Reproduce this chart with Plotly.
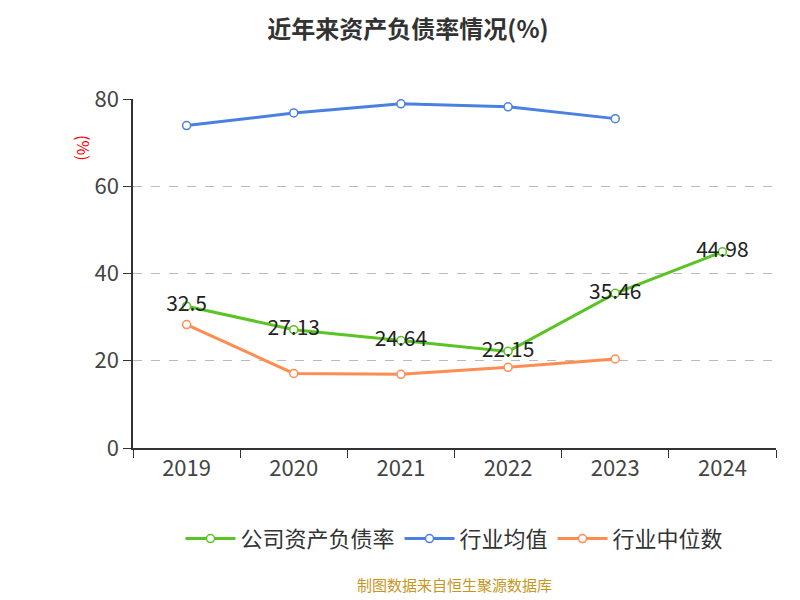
import plotly.graph_objects as go

years = ["2019", "2020", "2021", "2022", "2023", "2024"]
company = [32.5, 27.13, 24.64, 22.15, 35.46, 44.98]
industry_avg = [73.9, 76.8, 78.9, 78.2, 75.5, None]
industry_med = [28.3, 17.1, 16.9, 18.5, 20.4, None]

fig = go.Figure()
fig.add_trace(go.Scatter(x=years, y=company, name="公司资产负债率", mode="lines+markers+text",
                         text=[str(v) for v in company], textposition="middle center",
                         textfont=dict(size=21, color="#222"),
                         line=dict(color="#5bc424", width=3),
                         marker=dict(size=8, color="white", line=dict(color="#5bc424", width=1.5))))
fig.add_trace(go.Scatter(x=years, y=industry_avg, name="行业均值", mode="lines+markers",
                         line=dict(color="#4a80e0", width=3),
                         marker=dict(size=8, color="white", line=dict(color="#4a80e0", width=1.5))))
fig.add_trace(go.Scatter(x=years, y=industry_med, name="行业中位数", mode="lines+markers",
                         line=dict(color="#ff8c50", width=3),
                         marker=dict(size=8, color="white", line=dict(color="#ff8c50", width=1.5))))

fig.update_layout(
    width=800, height=600, plot_bgcolor="white", paper_bgcolor="white",
    font=dict(family="Noto Sans CJK SC", color="#333"),
    title=dict(text="<b>近年来资产负债率情况(%)</b>", x=0.5, y=1 - 22 / 600, xanchor="center",
               yanchor="middle", font=dict(size=24, color="#333")),
    margin=dict(l=125, r=32, t=91, b=160, autoexpand=False),
    showlegend=True,
    legend=dict(orientation="h", x=0.5, xanchor="center", y=-0.2, yanchor="top",
                font=dict(size=22, color="#333"), itemwidth=50),
    annotations=[
        dict(text="(%)", x=(62 - 125) / 643, y=(440 - 125) / 349, xref="paper", yref="paper",
             showarrow=False, textangle=90, font=dict(size=16, color="red")),
        dict(text="制图数据来自恒生聚源数据库", x=0.5, y=(440 - 589) / 349, xref="paper",
             yref="paper", showarrow=False, font=dict(size=15, color="#c8961e")),
    ],
)
fig.update_xaxes(showline=True, linecolor="#333", linewidth=1.5, ticks="outside",
                 tickson="boundaries", ticklen=8, tickcolor="#333",
                 tickfont=dict(size=22, color="#444"), range=[-0.5, 5.5])
fig.update_yaxes(range=[0, 80], dtick=20, showline=True, linecolor="#333", linewidth=1.5,
                 ticks="outside", ticklen=8, tickcolor="#333",
                 showgrid=True, gridcolor="#bbb", griddash="dash", zeroline=False,
                 tickfont=dict(size=22, color="#444"))
fig.write_html("out.html")
